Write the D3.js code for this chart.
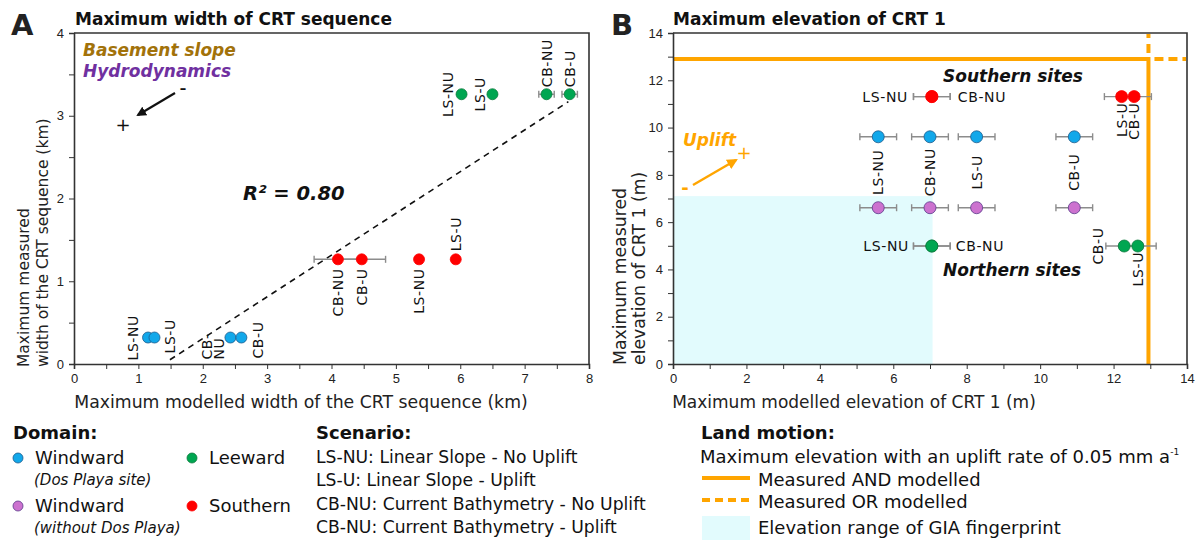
<!DOCTYPE html>
<html>
<head>
<meta charset="utf-8">
<script src="https://cdn.jsdelivr.net/npm/d3@7"></script>
<style>
  html, body { margin: 0; padding: 0; background: #fff; }
  svg { display: block; font-family: "DejaVu Sans", Verdana, sans-serif; }
  .tick text { font-size: 13px; fill: #222; }
  .tick line, .domain { stroke: #333; }
</style>
</head>
<body>
<svg id="chart" width="1202" height="541"></svg>
<script>
// ---------- Data ----------
const scenarios = ["LS-NU", "LS-U", "CB-NU", "CB-U"];

// Panel A: maximum width of the CRT sequence (km)
const widthModelledWindward = [1.15, 1.25, 2.43, 2.60];
const widthMeasuredWindward = 0.32;
const widthModelledSouthern = [5.36, 5.93, 4.10, 4.47];
const widthErrSouthern = [0, 0, 0.37, 0.37];
const widthMeasuredSouthern = 1.265;
const widthModelledLeeward = [6.02, 6.50, 7.34, 7.70];
const widthErrLeeward = [0, 0, 0.12, 0.12];
const widthMeasuredLeeward = 3.26;
const widthTrendX = [1.49, 7.68];
const widthTrendSlope = 0.504;
const widthTrendIntercept = -0.70;
const widthXTicks = d3.range(0, 8.01, 0.5);
const widthYTicks = d3.range(0, 4.01, 0.5);

// Panel B: maximum elevation of CRT 1 (m)
const elevModelledWindward = [5.59, 8.27, 7.00, 10.93];
const elevErrWindward = [0.5, 0.5, 0.5, 0.5];
const elevMeasuredWindwardDP = 9.61;
const elevMeasuredWindwardNoDP = 6.61;
const elevModelledSouthern = [7.05, 12.22, 7.05, 12.56];
const elevErrSouthern = [0.5, 0.47, 0.5, 0.47];
const elevMeasuredSouthern = 11.31;
const elevModelledLeeward = [7.05, 12.66, 7.05, 12.29];
const elevErrLeeward = [0.5, 0.5, 0.5, 0.5];
const elevMeasuredLeeward = 4.99;
const upliftModelled = 12.95;
const upliftMeasured = 12.9;
const giaModelled = 7.07;
const giaMeasured = 7.1;
const elevTicks = d3.range(0, 14.01, 1);

// ---------- Styles ----------
const colors = {
  windward: "#12a8ea", windwardStroke: "#1d5a8c",
  windwardNoDP: "#cc72cf", windwardNoDPStroke: "#5b3a8a",
  leeward: "#00a651", leewardStroke: "#0b7a3c",
  southern: "#ff0000", southernStroke: "#c00000",
  orange: "#ffa500", gia: "#e2fbfd", err: "#8c8c8c",
  basement: "#a2720a", hydro: "#7030a0"
};

const svg = d3.select("#chart");

function rotLabel(g, x, y, text, anchor, size) {
  g.append("text")
    .attr("transform", `translate(${x},${y}) rotate(-90)`)
    .attr("text-anchor", anchor)
    .attr("dominant-baseline", "central")
    .attr("font-size", size || 14)
    .attr("letter-spacing", 0.6)
    .attr("fill", "#111")
    .text(text);
}

function drawPoints(g, xs, ys, errs, fill, stroke, r, xScale, yScale) {
  const pts = xs.map((v, i) => ({ x: v, y: Array.isArray(ys) ? ys[i] : ys, e: errs ? errs[i] : 0 }));
  const eb = g.append("g").attr("stroke", colors.err).attr("stroke-width", 1.4);
  pts.filter(p => p.e > 0).forEach(p => {
    const y = yScale(p.y);
    eb.append("line").attr("x1", xScale(p.x - p.e)).attr("x2", xScale(p.x + p.e)).attr("y1", y).attr("y2", y);
    [p.x - p.e, p.x + p.e].forEach(v => {
      eb.append("line").attr("x1", xScale(v)).attr("x2", xScale(v)).attr("y1", y - 3.5).attr("y2", y + 3.5);
    });
  });
  g.append("g").selectAll("circle").data(pts).join("circle")
    .attr("cx", d => xScale(d.x)).attr("cy", d => yScale(d.y)).attr("r", r)
    .attr("fill", fill).attr("stroke", stroke).attr("stroke-width", 0.8);
  return pts;
}

function frame(g, x, y) {
  const [x0, x1] = x.range();
  const [y0, y1] = y.range();
  g.append("path")
    .attr("d", `M${x0},${y1}H${x1}V${y0}`)
    .attr("fill", "none").attr("stroke", "#333").attr("stroke-width", 1.6);
}

// ---------- Panel A ----------
const xA = d3.scaleLinear().domain([0, 8]).range([74, 589]);
const yA = d3.scaleLinear().domain([0, 4]).range([364, 33]);
const gA = svg.append("g");

frame(gA, xA, yA);
gA.append("g").attr("transform", `translate(0,${yA(0)})`)
  .call(d3.axisBottom(xA).tickValues(widthXTicks).tickSize(5).tickPadding(5)
    .tickFormat(d => Number.isInteger(d) ? d : ""))
  .call(a => a.select(".domain").attr("stroke-width", 1.6));
gA.append("g").attr("transform", `translate(${xA(0)},0)`)
  .call(d3.axisLeft(yA).tickValues(widthYTicks).tickSize(5).tickPadding(5)
    .tickFormat(d => Number.isInteger(d) ? d : ""))
  .call(a => a.select(".domain").attr("stroke-width", 1.6));

// trend line
gA.append("path")
  .datum(widthTrendX.map(v => [v, widthTrendSlope * v + widthTrendIntercept]))
  .attr("d", d3.line().x(d => xA(d[0])).y(d => yA(d[1])))
  .attr("fill", "none").attr("stroke", "#111").attr("stroke-width", 1.6)
  .attr("stroke-dasharray", "6,5");

const pAw = drawPoints(gA, widthModelledWindward, widthMeasuredWindward, null, colors.windward, colors.windwardStroke, 5.5, xA, yA);
const pAs = drawPoints(gA, widthModelledSouthern, widthMeasuredSouthern, widthErrSouthern, colors.southern, colors.southern, 5.5, xA, yA);
const pAl = drawPoints(gA, widthModelledLeeward, widthMeasuredLeeward, widthErrLeeward, colors.leeward, colors.leewardStroke, 5.5, xA, yA);

// scenario labels (pixel offsets from each point)
const labelsA = [
  { pts: pAw, i: 0, dx: -15, dy: 23, anchor: "start" },
  { pts: pAw, i: 1, dx: 16, dy: 16, anchor: "start" },
  { pts: pAw, i: 3, dx: 17, dy: 21, anchor: "start" },
  { pts: pAs, i: 0, dx: 0, dy: 9, anchor: "end" },
  { pts: pAs, i: 1, dx: 0, dy: -8, anchor: "start" },
  { pts: pAs, i: 2, dx: 0, dy: 9, anchor: "end" },
  { pts: pAs, i: 3, dx: 0, dy: 9, anchor: "end" },
  { pts: pAl, i: 0, dx: -14, dy: 0, anchor: "middle" },
  { pts: pAl, i: 1, dx: -12, dy: 0, anchor: "middle" },
  { pts: pAl, i: 2, dx: 0, dy: -7, anchor: "start" },
  { pts: pAl, i: 3, dx: 0, dy: -7, anchor: "start" }
];
labelsA.forEach(l => {
  const p = l.pts[l.i];
  rotLabel(gA, xA(p.x) + l.dx, yA(p.y) + l.dy, scenarios[l.i], l.anchor);
});
// windward CB-NU label is split over two lines
{
  const p = pAw[2];
  rotLabel(gA, xA(p.x) - 23, yA(p.y) + 22, "CB-", "start");
  rotLabel(gA, xA(p.x) - 11, yA(p.y) + 22, "NU", "start");
}

// titles and annotations
svg.append("text").attr("x", 11).attr("y", 35).attr("font-size", 29).attr("font-weight", "bold").attr("fill", "#222").text("A");
svg.append("text").attr("x", 75).attr("y", 25).attr("font-size", 17).attr("font-weight", "bold").attr("fill", "#111").text("Maximum width of CRT sequence");
svg.append("text").attr("x", 83).attr("y", 56).attr("font-size", 17).attr("font-weight", "bold").attr("font-style", "italic").attr("fill", colors.basement).text("Basement slope");
svg.append("text").attr("x", 83).attr("y", 77).attr("font-size", 17).attr("font-weight", "bold").attr("font-style", "italic").attr("fill", colors.hydro).text("Hydrodynamics");
svg.append("text").attr("x", 243).attr("y", 200).attr("font-size", 19.5).attr("font-weight", "bold").attr("font-style", "italic").attr("fill", "#111")
  .text("R² = 0.80");

const defs = svg.append("defs");
function arrowMarker(id, color) {
  defs.append("marker").attr("id", id).attr("viewBox", "0 0 10 10").attr("refX", 8).attr("refY", 5)
    .attr("markerWidth", 4.5).attr("markerHeight", 4.5).attr("orient", "auto-start-reverse")
    .append("path").attr("d", "M0,0L10,5L0,10z").attr("fill", color);
}
arrowMarker("arrK", "#111");
arrowMarker("arrO", colors.orange);

gA.append("line").attr("x1", 175).attr("y1", 93).attr("x2", 138).attr("y2", 115)
  .attr("stroke", "#111").attr("stroke-width", 2.2).attr("marker-end", "url(#arrK)");
gA.append("text").attr("transform", "translate(183,93) scale(1.4,1)").attr("text-anchor", "middle").attr("font-size", 12).attr("font-weight", "bold").attr("fill", "#111").text("-");
gA.append("text").attr("x", 123).attr("y", 131).attr("text-anchor", "middle").attr("font-size", 18).attr("fill", "#111").text("+");

// axis titles
svg.append("text").attr("x", 301).attr("y", 408).attr("text-anchor", "middle").attr("font-size", 17.3).attr("fill", "#222")
  .text("Maximum modelled width of the CRT sequence (km)");
svg.append("text").attr("transform", "translate(29,367) rotate(-90)").attr("text-anchor", "start").attr("font-size", 15.5).attr("fill", "#222")
  .text("Maximum measured");
svg.append("text").attr("transform", "translate(48,367) rotate(-90)").attr("text-anchor", "start").attr("font-size", 15.5).attr("fill", "#222")
  .text("width of the CRT sequence (km)");

// ---------- Panel B ----------
const xB = d3.scaleLinear().domain([0, 14]).range([673, 1187]);
const yB = d3.scaleLinear().domain([0, 14]).range([364, 33]);
const gB = svg.append("g");

// GIA fingerprint range
gB.append("rect").attr("x", xB(0)).attr("y", yB(giaMeasured))
  .attr("width", xB(giaModelled) - xB(0)).attr("height", yB(0) - yB(giaMeasured))
  .attr("fill", colors.gia);

frame(gB, xB, yB);

// uplift limits: solid where both measured and modelled, dashed beyond
gB.append("path").attr("d", `M${xB(0)},${yB(upliftMeasured)}H${xB(upliftModelled)}V${yB(0)}`)
  .attr("fill", "none").attr("stroke", colors.orange).attr("stroke-width", 4);
gB.append("line").attr("x1", xB(upliftModelled) + 2).attr("x2", xB(14) - 1)
  .attr("y1", yB(upliftMeasured)).attr("y2", yB(upliftMeasured))
  .attr("stroke", colors.orange).attr("stroke-width", 4).attr("stroke-dasharray", "9,5").attr("stroke-dashoffset", -4);
gB.append("line").attr("x1", xB(upliftModelled)).attr("x2", xB(upliftModelled))
  .attr("y1", yB(upliftMeasured) - 2).attr("y2", yB(14) + 1)
  .attr("stroke", colors.orange).attr("stroke-width", 4).attr("stroke-dasharray", "9,6").attr("stroke-dashoffset", -4);

gB.append("g").attr("transform", `translate(0,${yB(0)})`)
  .call(d3.axisBottom(xB).tickValues(elevTicks).tickSize(5).tickPadding(5)
    .tickFormat(d => d % 2 === 0 ? d : ""))
  .call(a => a.select(".domain").attr("stroke-width", 1.6));
gB.append("g").attr("transform", `translate(${xB(0)},0)`)
  .call(d3.axisLeft(yB).tickValues(elevTicks).tickSize(5).tickPadding(5)
    .tickFormat(d => d % 2 === 0 ? d : ""))
  .call(a => a.select(".domain").attr("stroke-width", 1.6));

const pBw = drawPoints(gB, elevModelledWindward, elevMeasuredWindwardDP, elevErrWindward, colors.windward, colors.windwardStroke, 6, xB, yB);
const pBp = drawPoints(gB, elevModelledWindward, elevMeasuredWindwardNoDP, elevErrWindward, colors.windwardNoDP, colors.windwardNoDPStroke, 6, xB, yB);
const pBs = drawPoints(gB, elevModelledSouthern, elevMeasuredSouthern, elevErrSouthern, colors.southern, colors.southern, 6, xB, yB);
const pBl = drawPoints(gB, elevModelledLeeward, elevMeasuredLeeward, elevErrLeeward, colors.leeward, colors.leewardStroke, 6, xB, yB);

function hLabel(g, x, y, text, anchor) {
  g.append("text").attr("x", x).attr("y", y).attr("text-anchor", anchor)
    .attr("dominant-baseline", "central").attr("font-size", 14).attr("letter-spacing", 0.6)
    .attr("fill", "#111").text(text);
}
// windward labels sit midway between the two windward rows
pBw.forEach((p, i) => {
  rotLabel(gB, xB(p.x), (yB(elevMeasuredWindwardDP) + yB(elevMeasuredWindwardNoDP)) / 2, scenarios[i], "middle");
});
hLabel(gB, xB(pBs[0].x) - 24, yB(pBs[0].y), scenarios[0], "end");
hLabel(gB, xB(pBs[2].x) + 26, yB(pBs[2].y), scenarios[2], "start");
rotLabel(gB, xB(pBs[1].x), yB(pBs[1].y) + 6, scenarios[1], "end");
rotLabel(gB, xB(pBs[3].x), yB(pBs[3].y) + 6, scenarios[3], "end");
hLabel(gB, xB(pBl[0].x) - 23, yB(pBl[0].y), scenarios[0], "end");
hLabel(gB, xB(pBl[2].x) + 24, yB(pBl[2].y), scenarios[2], "start");
rotLabel(gB, xB(pBl[3].x) - 26, yB(pBl[3].y), scenarios[3], "middle");
rotLabel(gB, xB(pBl[1].x), yB(pBl[1].y) + 6, scenarios[1], "end");

svg.append("text").attr("x", 943).attr("y", 82).attr("font-size", 17).attr("font-weight", "bold").attr("font-style", "italic").attr("fill", "#111").text("Southern sites");
svg.append("text").attr("x", 943).attr("y", 276).attr("font-size", 17).attr("font-weight", "bold").attr("font-style", "italic").attr("fill", "#111").text("Northern sites");

svg.append("text").attr("x", 683).attr("y", 146).attr("font-size", 17).attr("font-weight", "bold").attr("font-style", "italic").attr("fill", colors.orange).text("Uplift");
gB.append("line").attr("x1", 693).attr("y1", 185).attr("x2", 736).attr("y2", 160)
  .attr("stroke", colors.orange).attr("stroke-width", 2.4).attr("marker-end", "url(#arrO)");
gB.append("text").attr("x", 685).attr("y", 194).attr("text-anchor", "middle").attr("font-size", 18).attr("font-weight", "bold").attr("fill", colors.orange).text("-");
gB.append("text").attr("x", 744).attr("y", 159).attr("text-anchor", "middle").attr("font-size", 18).attr("fill", colors.orange).text("+");

svg.append("text").attr("x", 611).attr("y", 35).attr("font-size", 29).attr("font-weight", "bold").attr("fill", "#222").text("B");
svg.append("text").attr("x", 673).attr("y", 25).attr("font-size", 17).attr("font-weight", "bold").attr("fill", "#111").text("Maximum elevation of CRT 1");

svg.append("text").attr("x", 854).attr("y", 408).attr("text-anchor", "middle").attr("font-size", 17).attr("fill", "#222")
  .text("Maximum modelled elevation of CRT 1 (m)");
svg.append("text").attr("transform", "translate(626,365) rotate(-90)").attr("text-anchor", "start").attr("font-size", 17.3).attr("fill", "#222")
  .text("Maximum measured");
svg.append("text").attr("transform", "translate(645,365) rotate(-90)").attr("text-anchor", "start").attr("font-size", 17.3).attr("fill", "#222")
  .text("elevation of CRT 1 (m)");

// ---------- Legends ----------
const domainItems = [
  { name: "Windward", sub: "(Dos Playa site)", fill: colors.windward, stroke: colors.windwardStroke, col: 0, row: 0 },
  { name: "Windward", sub: "(without Dos Playa)", fill: colors.windwardNoDP, stroke: colors.windwardNoDPStroke, col: 0, row: 1 },
  { name: "Leeward", sub: null, fill: colors.leeward, stroke: colors.leewardStroke, col: 1, row: 0 },
  { name: "Southern", sub: null, fill: colors.southern, stroke: colors.southern, col: 1, row: 1 }
];
const lg = svg.append("g");
lg.append("text").attr("x", 13).attr("y", 439).attr("font-size", 18).attr("font-weight", "bold").attr("fill", "#111").text("Domain:");
domainItems.forEach(d => {
  const x = d.col ? 192 : 18;
  const y = d.row ? 506 : 458;
  lg.append("circle").attr("cx", x).attr("cy", y).attr("r", 5).attr("fill", d.fill).attr("stroke", d.stroke).attr("stroke-width", 0.8);
  lg.append("text").attr("x", x + 17).attr("y", y + 6).attr("font-size", 18).attr("fill", "#111").text(d.name);
  if (d.sub) lg.append("text").attr("x", x + 16).attr("y", y + 27).attr("font-size", 15).attr("font-style", "italic").attr("fill", "#111").text(d.sub);
});

const scenarioLines = [
  "LS-NU: Linear Slope - No Uplift",
  "LS-U: Linear Slope - Uplift",
  "CB-NU: Current Bathymetry - No Uplift",
  "CB-NU: Current Bathymetry - Uplift"
];
lg.append("text").attr("x", 316).attr("y", 439).attr("font-size", 18).attr("font-weight", "bold").attr("fill", "#111").text("Scenario:");
scenarioLines.forEach((t, i) => {
  lg.append("text").attr("x", 316).attr("y", 463 + i * 23.3).attr("font-size", 17.2).attr("fill", "#111").text(t);
});

lg.append("text").attr("x", 701).attr("y", 439).attr("font-size", 18).attr("font-weight", "bold").attr("fill", "#111").text("Land motion:");
const lm = lg.append("text").attr("x", 700).attr("y", 463).attr("font-size", 18).attr("fill", "#111");
lm.append("tspan").text("Maximum elevation with an uplift rate of 0.05 mm a");
lm.append("tspan").attr("font-size", 9).attr("dy", -8).text("-1");
lg.append("line").attr("x1", 702).attr("x2", 750).attr("y1", 478).attr("y2", 478).attr("stroke", colors.orange).attr("stroke-width", 4);
lg.append("text").attr("x", 758).attr("y", 486).attr("font-size", 18).attr("fill", "#111").text("Measured AND modelled");
lg.append("line").attr("x1", 702).attr("x2", 750).attr("y1", 500).attr("y2", 500).attr("stroke", colors.orange).attr("stroke-width", 4).attr("stroke-dasharray", "8,5");
lg.append("text").attr("x", 758).attr("y", 508).attr("font-size", 18).attr("fill", "#111").text("Measured OR modelled");
lg.append("rect").attr("x", 702).attr("y", 516).attr("width", 48).attr("height", 24).attr("fill", colors.gia);
lg.append("text").attr("x", 758).attr("y", 534).attr("font-size", 18).attr("fill", "#111").text("Elevation range of GIA fingerprint");
</script>
</body>
</html>
